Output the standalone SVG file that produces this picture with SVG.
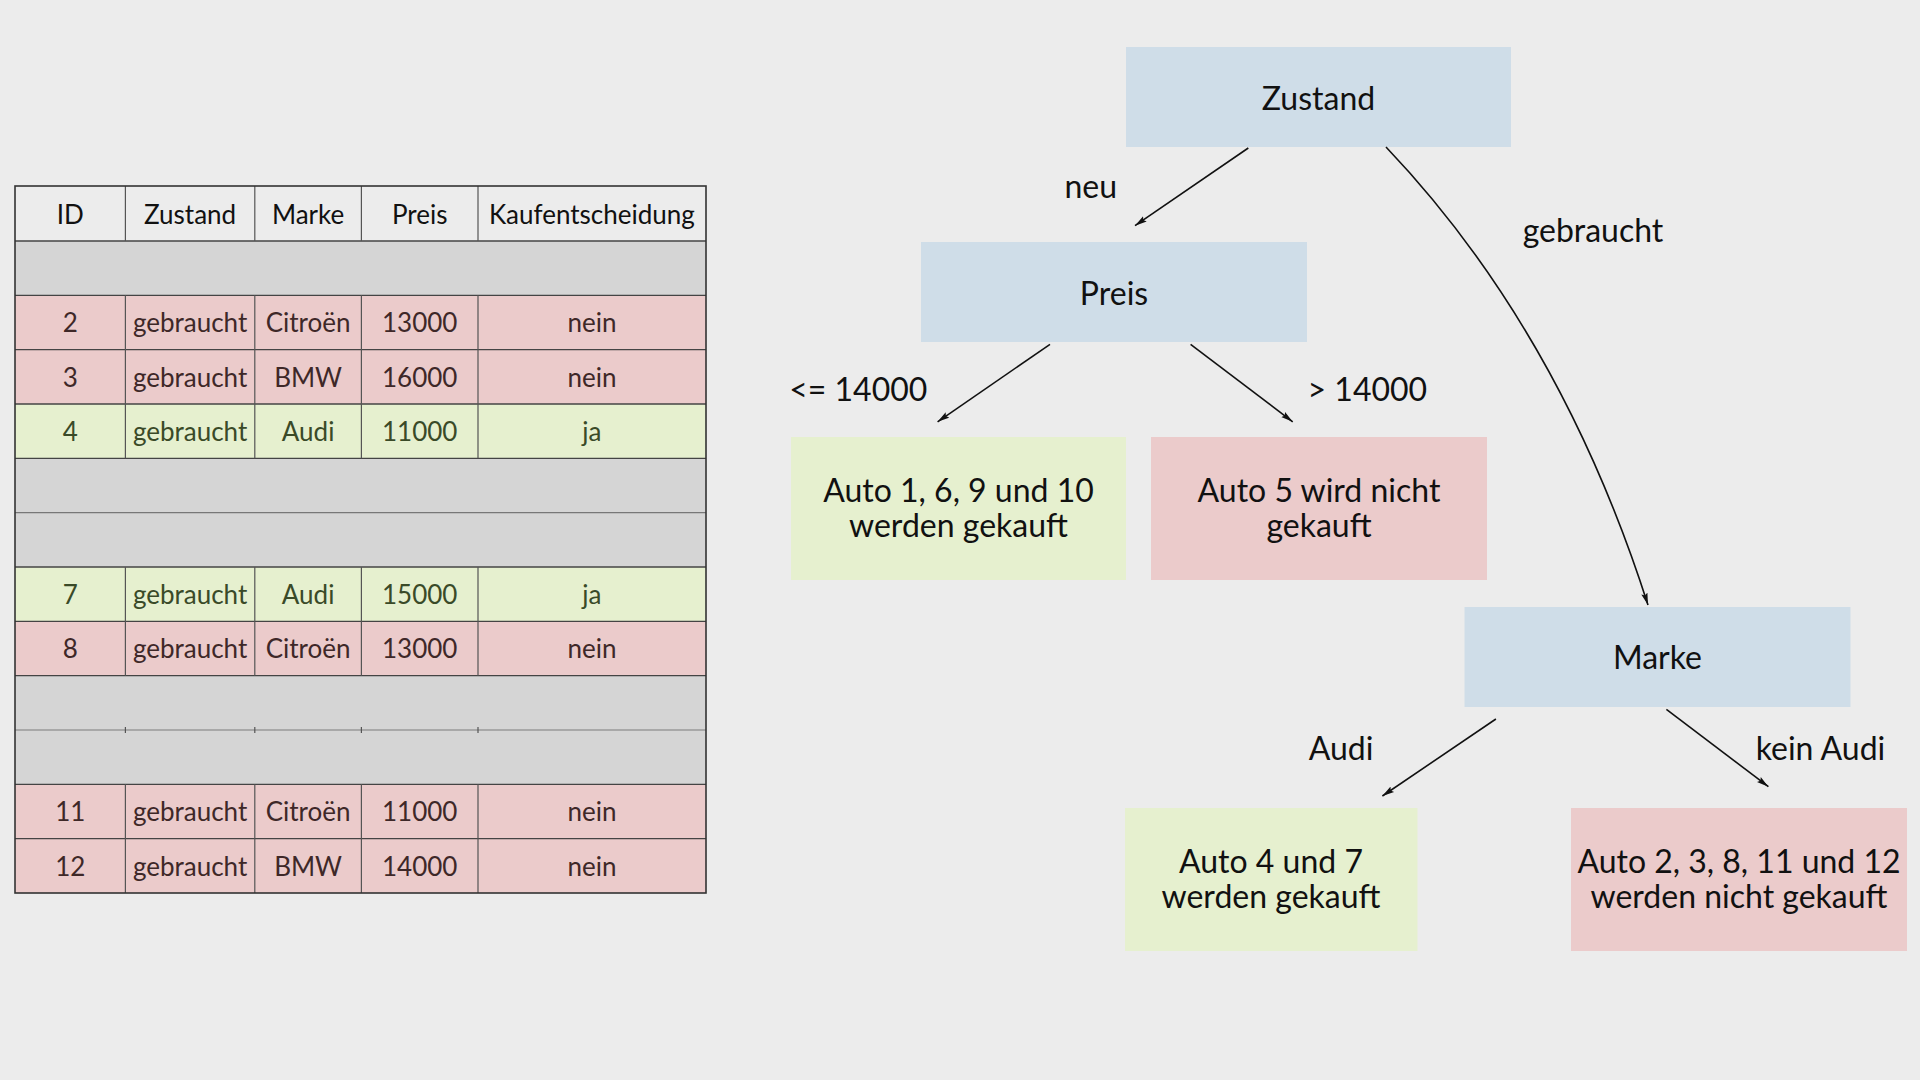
<svg xmlns="http://www.w3.org/2000/svg" width="1920" height="1080" viewBox="0 0 1920 1080">
<defs>
<style>
.t{font-family:Lato,"Liberation Sans",sans-serif;text-anchor:middle}
.th{font-size:26px;fill:#111}
.tr{font-size:26px;fill:#3e2828}
.tg{font-size:26px;fill:#3a4a28}
.n{font-size:32px;fill:#111}
.lb{font-size:32px;fill:#111}
.blue{fill:#cfdde8}
.green{fill:#e6f0cf}
.red{fill:#ebcbcb}
.gray{fill:#d5d5d5}
.conn{fill:none;stroke:#111;stroke-width:1.6}
.hl{stroke:#444;stroke-width:1.3}
.vl{stroke:#555;stroke-width:1.2}
</style>
<marker id="ahl" viewBox="0 0 12 8" refX="12" refY="4" markerWidth="12" markerHeight="8" markerUnits="userSpaceOnUse" orient="auto">
<path d="M0,0.8 L12,4 L0,7.2 L2,4 z" fill="#111"/>
</marker>
</defs>
<rect width="1920" height="1080" fill="#ececec"/>

<g id="table">
<rect x="15" y="186" width="691" height="55" fill="#ececec"/>
<rect class="gray" x="15" y="241" width="691" height="54.3"/>
<rect class="red" x="15" y="295.3" width="691" height="54.4"/>
<rect class="red" x="15" y="349.7" width="691" height="54.3"/>
<rect class="green" x="15" y="404" width="691" height="54.3"/>
<rect class="gray" x="15" y="458.3" width="691" height="108.7"/>
<rect class="green" x="15" y="567" width="691" height="54.3"/>
<rect class="red" x="15" y="621.3" width="691" height="54.4"/>
<rect class="gray" x="15" y="675.7" width="691" height="108.6"/>
<rect class="red" x="15" y="784.3" width="691" height="108.7"/>
<g>
<line class="hl" x1="15" y1="241" x2="706" y2="241"/>
<line class="hl" x1="15" y1="295.3" x2="706" y2="295.3"/>
<line class="hl" x1="15" y1="349.7" x2="706" y2="349.7"/>
<line class="hl" x1="15" y1="404" x2="706" y2="404"/>
<line class="hl" x1="15" y1="458.3" x2="706" y2="458.3"/>
<line class="hl" x1="15" y1="512.7" x2="706" y2="512.7" style="stroke:#777"/>
<line class="hl" x1="15" y1="567" x2="706" y2="567"/>
<line class="hl" x1="15" y1="621.3" x2="706" y2="621.3"/>
<line class="hl" x1="15" y1="675.7" x2="706" y2="675.7"/>
<line class="hl" x1="15" y1="730" x2="706" y2="730" style="stroke:#999"/>
<line class="hl" x1="15" y1="784.3" x2="706" y2="784.3"/>
<line class="hl" x1="15" y1="838.7" x2="706" y2="838.7"/>
</g>
<g>
<path class="vl" d="M125.4,186V241M254.8,186V241M361.4,186V241M478,186V241"/>
<path class="vl" d="M125.4,295.3V458.3M254.8,295.3V458.3M361.4,295.3V458.3M478,295.3V458.3"/>
<path class="vl" d="M125.4,567V675.7M254.8,567V675.7M361.4,567V675.7M478,567V675.7"/>
<path class="vl" d="M125.4,784.3V893M254.8,784.3V893M361.4,784.3V893M478,784.3V893"/>
<path class="vl" d="M125.4,727V733M254.8,727V733M361.4,727V733M478,727V733"/>
</g>
<rect x="15" y="186" width="691" height="707" fill="none" stroke="#333" stroke-width="1.6"/>
<g class="t th">
<text x="70.3" y="224">ID</text>
<text x="190.1" y="224">Zustand</text>
<text x="308.1" y="224">Marke</text>
<text x="419.7" y="224">Preis</text>
<text x="591.9" y="224">Kaufentscheidung</text>
</g>
<g class="t tr">
<text x="70.3" y="332.3">2</text><text x="190.1" y="332.3">gebraucht</text><text x="308.1" y="332.3">Citroën</text><text x="419.7" y="332.3">13000</text><text x="591.9" y="332.3">nein</text>
<text x="70.3" y="386.7">3</text><text x="190.1" y="386.7">gebraucht</text><text x="308.1" y="386.7">BMW</text><text x="419.7" y="386.7">16000</text><text x="591.9" y="386.7">nein</text>
<text x="70.3" y="658.3">8</text><text x="190.1" y="658.3">gebraucht</text><text x="308.1" y="658.3">Citroën</text><text x="419.7" y="658.3">13000</text><text x="591.9" y="658.3">nein</text>
<text x="70.3" y="821.3">11</text><text x="190.1" y="821.3">gebraucht</text><text x="308.1" y="821.3">Citroën</text><text x="419.7" y="821.3">11000</text><text x="591.9" y="821.3">nein</text>
<text x="70.3" y="875.7">12</text><text x="190.1" y="875.7">gebraucht</text><text x="308.1" y="875.7">BMW</text><text x="419.7" y="875.7">14000</text><text x="591.9" y="875.7">nein</text>
</g>
<g class="t tg">
<text x="70.3" y="441">4</text><text x="190.1" y="441">gebraucht</text><text x="308.1" y="441">Audi</text><text x="419.7" y="441">11000</text><text x="591.9" y="441">ja</text>
<text x="70.3" y="604">7</text><text x="190.1" y="604">gebraucht</text><text x="308.1" y="604">Audi</text><text x="419.7" y="604">15000</text><text x="591.9" y="604">ja</text>
</g>
</g>

<g id="node-zustand">
<rect class="blue" x="1126" y="47" width="385" height="100"/>
<text class="t n" x="1318.5" y="110">Zustand</text>
</g>
<g id="node-preis">
<rect class="blue" x="921" y="242" width="386" height="100"/>
<text class="t n" x="1114" y="305">Preis</text>
</g>
<g id="node-leaf1">
<rect class="green" x="791" y="437" width="335" height="143"/>
<text class="t n" x="958.5" y="502">Auto 1, 6, 9 und 10</text>
<text class="t n" x="958.5" y="537">werden gekauft</text>
</g>
<g id="node-leaf2">
<rect class="red" x="1151" y="437" width="336" height="143"/>
<text class="t n" x="1319" y="502">Auto 5 wird nicht</text>
<text class="t n" x="1319" y="537">gekauft</text>
</g>
<g id="node-marke">
<rect class="blue" x="1464.5" y="607" width="386" height="100"/>
<text class="t n" x="1657.5" y="669">Marke</text>
</g>
<g id="node-leaf3">
<rect class="green" x="1125" y="808" width="292.5" height="143"/>
<text class="t n" x="1271" y="873">Auto 4 und 7</text>
<text class="t n" x="1271" y="908">werden gekauft</text>
</g>
<g id="node-leaf4">
<rect class="red" x="1571" y="808" width="336" height="143"/>
<text class="t n" x="1739" y="873">Auto 2, 3, 8, 11 und 12</text>
<text class="t n" x="1739" y="908">werden nicht gekauft</text>
</g>

<g id="connectors">
<line class="conn" x1="1248.3" y1="148" x2="1135" y2="225.7" marker-end="url(#ahl)"/>
<path class="conn" d="M1386,147 Q1560,330 1648,605" marker-end="url(#ahl)"/>
<line class="conn" x1="1050" y1="344.3" x2="937.6" y2="421.8" marker-end="url(#ahl)"/>
<line class="conn" x1="1190.6" y1="344.3" x2="1292.7" y2="421.8" marker-end="url(#ahl)"/>
<line class="conn" x1="1495.9" y1="719" x2="1382.4" y2="796" marker-end="url(#ahl)"/>
<line class="conn" x1="1666.4" y1="709.3" x2="1768.4" y2="786.7" marker-end="url(#ahl)"/>
<g class="t lb">
<text x="1090.7" y="198">neu</text>
<text x="1593" y="242">gebraucht</text>
<text x="858.3" y="401">&lt;= 14000</text>
<text x="1367.4" y="401">&gt; 14000</text>
<text x="1341" y="760">Audi</text>
<text x="1820.5" y="760">kein Audi</text>
</g>
</g>
</svg>
